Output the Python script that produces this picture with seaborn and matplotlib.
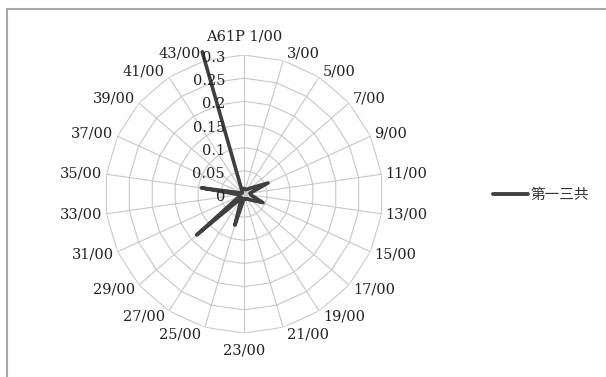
import numpy as np
import pandas as pd
import matplotlib
matplotlib.use("Agg")
import matplotlib.pyplot as plt
import seaborn as sns
from matplotlib.lines import Line2D

categories = ["A61P 1/00", "3/00", "5/00", "7/00", "9/00", "11/00", "13/00", "15/00",
              "17/00", "19/00", "21/00", "23/00", "25/00", "27/00", "29/00", "31/00",
              "33/00", "35/00", "37/00", "39/00", "41/00", "43/00"]
values = [0.012, 0.01, 0.012, 0.02, 0.057, 0.013, 0.015, 0.045,
          0.02, 0.012, 0.012, 0.01, 0.07, 0.01, 0.135, 0.01,
          0.01, 0.093, 0.005, 0.005, 0.008, 0.32]
series_name = "第一三共"
rticks = [0, 0.05, 0.1, 0.15, 0.2, 0.25, 0.3]
rtick_labels = ["0", "0.05", "0.1", "0.15", "0.2", "0.25", "0.3"]

sns.set_style("white")
plt.rcParams['font.family'] = ['DejaVu Serif']

W, H = 606, 377
fig = plt.figure(figsize=(W / 100, H / 100), dpi=100)
fig.patch.set_facecolor("white")

cx, cy, R = 244, 194, 139
ax = fig.add_axes([(cx - R) / W, (H - cy - R) / H, 2 * R / W, 2 * R / H], projection="polar")
ax.set_theta_zero_location("N")
ax.set_theta_direction(-1)
ax.set_ylim(0, 0.3)
ax.spines["polar"].set_visible(False)
ax.set_facecolor("none")

n = len(categories)
angles = np.arange(n) * 2 * np.pi / n
ax.set_xticks(angles)
ax.set_xticklabels([])
ax.set_yticks([])
ax.xaxis.grid(True, color="#c8c8c8", linewidth=0.8)
ax.yaxis.grid(False)

closed = np.append(angles, angles[0])
for r in rticks[1:]:
    ax.plot(closed, [r] * (n + 1), color="#c8c8c8", linewidth=0.8, zorder=1)

df = pd.DataFrame({"theta": np.append(angles, angles[0]),
                   "value": values + [values[0]],
                   "series": series_name})
sns.lineplot(data=df, x="theta", y="value", hue="series", sort=False, ax=ax,
             palette=["#404040"], linewidth=2.6, legend=False, zorder=3,
             solid_joinstyle="round", clip_on=False)
ax.set_xlabel("")
ax.set_ylabel("")

# radial tick labels
for r, lab in zip(rticks, rtick_labels):
    ax.annotate(lab, xy=(0, r), xytext=(-19, -3), textcoords="offset pixels",
                ha="right", va="center", fontsize=10.5, color="#222222", zorder=5)

# category labels
for th, lab in zip(angles, categories):
    s, c = np.sin(th), np.cos(th)
    if abs(s) < 0.1:
        ha = "center"
        dx, dy = 0, 18 * np.sign(c)
    else:
        ha = "left" if s > 0 else "right"
        dx, dy = 4 * np.sign(s), 7 * c
    ax.annotate(lab, xy=(th, 0.3), xytext=(dx, dy), textcoords="offset pixels",
                ha=ha, va="center", fontsize=10.5, color="#222222", annotation_clip=False)

# legend
handle = Line2D([0], [0], color="#404040", linewidth=2.8)
leg = fig.legend([handle], [series_name], loc="center left",
                 bbox_to_anchor=(480 / W, 1 - 195 / H), frameon=False,
                 handlelength=2.4, handletextpad=0.15,
                 prop={"family": ["Noto Sans CJK JP", "DejaVu Sans"], "size": 10.5})
for t in leg.get_texts():
    t.set_color("#333333")

# chart frame
fig.add_artist(Line2D([7 / W, 7 / W], [0, 1 - 9 / H], transform=fig.transFigure,
                      color="#a8a8a8", linewidth=1.5))
fig.add_artist(Line2D([7 / W, 1], [1 - 9 / H, 1 - 9 / H], transform=fig.transFigure,
                      color="#a8a8a8", linewidth=1.5))

fig.savefig("out.png", dpi=100, facecolor="white")
